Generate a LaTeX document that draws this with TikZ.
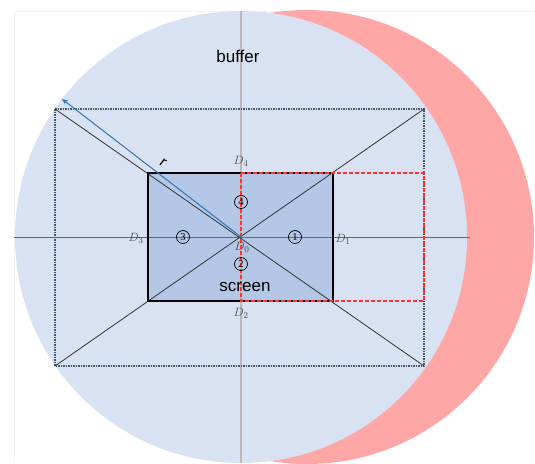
\documentclass[tikz,border=0pt]{standalone}
\usepackage{fontspec}
\setmainfont{Liberation Serif}
\newfontfamily\arialfont{Liberation Sans}
\usetikzlibrary{arrows.meta}
\definecolor{bufblue}{HTML}{D9E2F2}
\definecolor{scrblue}{HTML}{B4C7E7}
\definecolor{pinkc}{HTML}{FFA6A6}
\definecolor{redd}{HTML}{FF3333}
\definecolor{arrowblue}{HTML}{2E75B6}
\definecolor{slate}{HTML}{44546A}
\definecolor{dlab}{HTML}{4A4A4A}
\tikzset{
  bigtext/.style={font=\arialfont\fontsize{17}{20}\selectfont, text=black},
  dlabel/.style={font=\fontsize{12.5}{13}\selectfont, text=dlab, inner sep=0pt},
  circnum/.style={circle, draw=black, line width=0.7pt, minimum size=13pt, inner sep=0pt, font=\fontsize{10.5}{10}\selectfont},
  dottedbox/.style={draw=slate, line width=1.1pt, dash pattern=on 1.5pt off 1pt},
  reddash/.style={draw=redd, line width=1.5pt, dash pattern=on 4pt off 2pt},
  diag/.style={draw=black!80, line width=0.8pt}
}
\begin{document}
\begin{tikzpicture}[x=1pt,y=-1pt]
\useasboundingbox (0,0) rectangle (535,463);
\begin{scope}
\clip (0,0) rectangle (535,463);
% faint frame
\draw[gray!10, line width=0.6pt] (14,463) -- (14,11) -- (535,11);
% circles
\fill[pinkc] (307,237) circle (227);
\fill[bufblue] (241,237) circle (226);
\end{scope}
% coordinates
\coordinate (C) at (241,237);
\coordinate (vt) at (241,11);
\coordinate (vb) at (241,463);
\coordinate (hl) at (14,237);
\coordinate (hr) at (470,237);
\coordinate (btl) at (55,109);
\coordinate (bbr) at (424,366);
\coordinate (btr) at (424,109);
\coordinate (bbl) at (55,366);
\coordinate (stl) at (148,173);
\coordinate (sbr) at (333,301);
\coordinate (rtl) at (241,173);
\coordinate (rbr) at (424,301);
\coordinate (rend) at (62,99);
% screen fill
\fill[scrblue] (stl) rectangle (sbr);
% axes
\draw[gray!55, line width=1.3pt] (vt) -- (vb);
\draw[black!60, line width=0.8pt] (hl) -- (hr);
% buffer rect
\draw[dottedbox] (btl) rectangle (bbr);
% diagonals
\draw[diag] (btl) -- (bbr);
\draw[diag] (bbl) -- (btr);
% screen border
\draw[black, line width=1.8pt] (stl) rectangle (sbr);
% red dashed
\draw[reddash] (rtl) rectangle (rbr);
% radius arrow
\draw[arrowblue, line width=1pt, -{Stealth[length=6pt,width=5pt]}] (C) -- (rend);
\node[font=\arialfont\fontsize{15}{15}\selectfont, rotate=-37] (rlab) at (163,163) {r};
% text labels
\node[bigtext] (buffer) at (238,56) {buffer};
\node[bigtext] (screen) at (245,287) {screen};
\node[dlabel] (d4) at (241,161) {$D_4$};
\node[dlabel] (d3) at (136,238) {$D_3$};
\node[dlabel] (d1) at (343,239) {$D_1$};
\node[dlabel] (d2) at (241,313) {$D_2$};
\node[dlabel] (d0) at (242,247) {$D_0$};
\node[circnum] (n4) at (241,202) {4};
\node[circnum] (n3) at (183,237) {3};
\node[circnum] (n1) at (295,237) {1};
\node[circnum] (n2) at (241,264) {2};
\end{tikzpicture}
\end{document}
